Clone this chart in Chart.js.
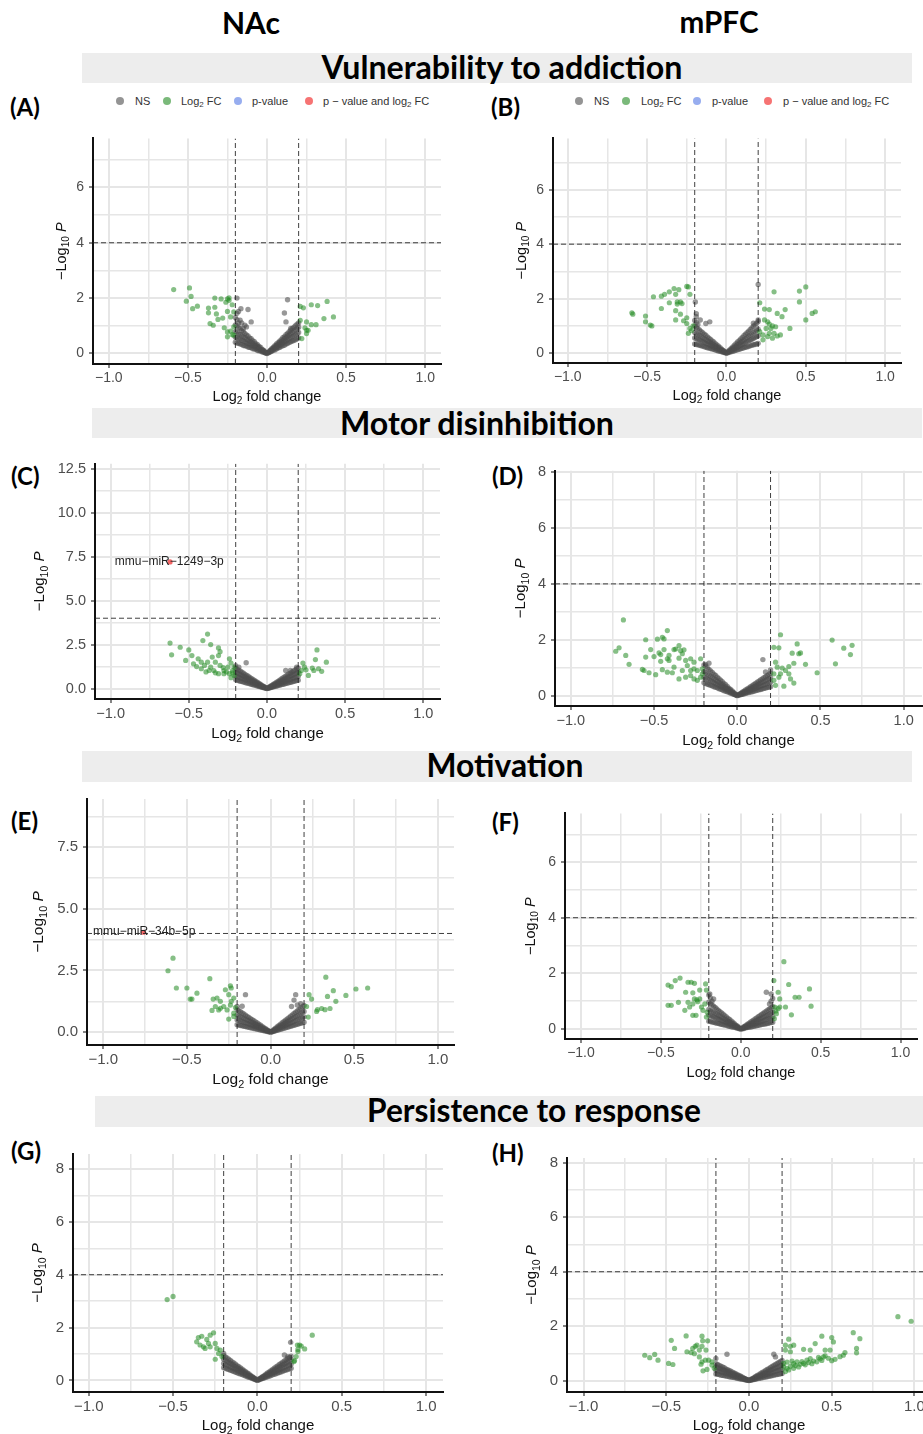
<!DOCTYPE html>
<html><head><meta charset="utf-8"><title>Volcano plots NAc / mPFC</title>
<script src="https://cdn.jsdelivr.net/npm/chart.js@4.4.1/dist/chart.umd.min.js"></script>
<style>
html,body{margin:0;padding:0;width:923px;height:1434px;overflow:hidden;background:#fff;}
body{position:relative;font-family:'Liberation Sans',Arial,sans-serif;}
.t{position:absolute;white-space:nowrap;font-family:Lato,'Open Sans',sans-serif;font-weight:700;color:#000;line-height:1;transform:translate(-50%,-50%);font-size:28px;}
.band{position:absolute;background:#ededed;}
.pl{position:absolute;font-family:Lato,sans-serif;font-weight:700;font-size:24px;line-height:1;white-space:nowrap;transform:translateY(-50%);}
.lg{position:absolute;font-size:11px;color:#333;white-space:nowrap;line-height:1;transform:translateY(-50%);}
.lg sub{font-size:8px;vertical-align:-2px;line-height:0;}
.dot{position:absolute;width:8px;height:8px;border-radius:50%;transform:translate(-50%,-50%);}
canvas{position:absolute;}
</style></head>
<body>
<div class="band" style="left:82px;top:53px;width:830px;height:30px"></div>
<div class="band" style="left:92px;top:408px;width:830px;height:30px"></div>
<div class="band" style="left:82px;top:751px;width:830px;height:31px"></div>
<div class="band" style="left:95px;top:1096px;width:828px;height:31px"></div>
<div class="t" data-w="58" style="left:251px;top:22px">NAc</div>
<div class="t" data-w="79" style="left:719px;top:22px">mPFC</div>
<div class="t" data-w="361" style="left:502px;top:67px">Vulnerability to addiction</div>
<div class="t" data-w="274" style="left:477px;top:423px">Motor disinhibition</div>
<div class="t" data-w="157" style="left:505px;top:766px">Motivation</div>
<div class="t" data-w="334" style="left:534px;top:1111px">Persistence to response</div>
<div class="pl" style="left:10px;top:107px">(A)</div>
<div class="pl" style="left:491px;top:107px">(B)</div>
<div class="pl" style="left:11px;top:476px">(C)</div>
<div class="pl" style="left:492px;top:476px">(D)</div>
<div class="pl" style="left:11px;top:821px">(E)</div>
<div class="pl" style="left:492px;top:822px">(F)</div>
<div class="pl" style="left:11px;top:1151px">(G)</div>
<div class="pl" style="left:492px;top:1153px">(H)</div>
<script>
// ---------------- data ----------------
const xTickLabels = [-1.0, -0.5, 0.0, 0.5, 1.0];
const fcCutoff = [-0.2, 0.2];
const pCutoff = 4;
const legendLabels = ['NS', 'Log<sub>2</sub> FC', 'p-value', 'p \u2212 value and log<sub>2</sub> FC'];
const legendColors = ['rgba(77,77,77,0.6)', 'rgba(34,139,34,0.6)', 'rgba(65,105,225,0.55)', 'rgba(238,0,0,0.55)'];

// NS points stored per column: [log2FC, -log10P, -log10P, ...]
// Panel A: NAc, vulnerability
const nsA = [[0,0,0.01],
[-0.01,0.02,0.03,0.05],[-0.02,0.04,0.07,0.08,0.11],[-0.03,0.05,0.09,0.13,0.15],[-0.04,0.09,0.12,0.15,0.22],[-0.05,0.1,0.16,0.21,0.25],[-0.06,0.11,0.18,0.25,0.32],[-0.07,0.15,0.2,0.29,0.35],[-0.08,0.16,0.25,0.31,0.43],[-0.09,0.17,0.28,0.37,0.46],[-0.1,0.21,0.29,0.41,0.53],[-0.11,0.22,0.34,0.43,0.56],[-0.12,0.23,0.36,0.49,0.63],[-0.13,0.27,0.38,0.51,0.67],[-0.14,0.28,0.43,0.57,0.72],[-0.15,0.29,0.45,0.61,0.79],[-0.16,0.33,0.47,0.63,0.82],[-0.17,0.34,0.52,0.69,0.9],[-0.18,0.37,0.53,0.71,0.93,1.1],[-0.19,0.38,0.58,0.77,1.0,1.22],[-0.2,0.41,0.59,0.79,1.03,1.3],
[0.01,0.03,0.04,0.05],[0.02,0.05,0.08,0.1,0.11],[0.03,0.08,0.11,0.15,0.17],[0.04,0.12,0.15,0.19,0.23],[0.05,0.13,0.2,0.24,0.28],[0.06,0.17,0.22,0.29,0.34],[0.07,0.2,0.27,0.33,0.39],[0.08,0.22,0.3,0.39,0.44],[0.09,0.26,0.34,0.43,0.5],[0.1,0.28,0.38,0.47,0.57],[0.11,0.3,0.42,0.53,0.61],[0.12,0.34,0.45,0.57,0.68],[0.13,0.36,0.5,0.63,0.72],[0.14,0.4,0.53,0.67,0.79],[0.15,0.42,0.57,0.72,0.84],[0.16,0.45,0.61,0.76,0.9],[0.17,0.47,0.65,0.82,0.95],[0.18,0.5,0.68,0.86,1.0],[0.19,0.53,0.72,0.92,1.06],[0.2,0.56,0.76,0.95,1.1],
[-0.19,2.0,1.45],[-0.18,1.52],[-0.165,1.62],[-0.12,1.59],[-0.1,1.14],[-0.13,0.96],[-0.15,0.9],[-0.17,1.2],[-0.14,1.02],[-0.16,1.1],[0.13,1.94],[0.11,1.46],[0.12,1.14],[0.15,0.9]];
const fcA = [[-0.59,2.31],[-0.49,2.37],[-0.48,2.06],[-0.51,1.89],[-0.47,1.62],[-0.44,1.71],[-0.37,1.64],[-0.37,1.47],[-0.33,2.0],[-0.29,1.97],[-0.33,1.67],[-0.32,1.43],[-0.31,1.23],[-0.28,1.28],[-0.36,1.08],[-0.34,1.02],[-0.27,0.93],[-0.25,1.97],[-0.24,2.01],[-0.26,1.85],[-0.24,1.92],[-0.25,1.52],[-0.22,1.76],[-0.21,1.5],[-0.23,1.32],[-0.25,0.78],[-0.23,0.81],[-0.25,0.6],[-0.22,0.68],[-0.21,0.96],[-0.21,0.66],[0.21,1.7],[0.23,1.65],[0.28,1.76],[0.32,1.73],[0.38,1.88],[0.42,1.32],[0.36,1.26],[0.31,1.04],[0.28,1.04],[0.25,1.14],[0.21,1.2],[0.24,0.93],[0.25,0.84],[0.26,0.84],[0.22,0.54],[0.25,0.72]];

// Panel B: mPFC, vulnerability
const nsB = [[0,0,0.01],
[-0.01,0.02,0.03,0.05],[-0.02,0.03,0.06,0.08,0.1],[-0.03,0.05,0.08,0.12,0.15],[-0.04,0.07,0.11,0.15,0.2],[-0.05,0.08,0.14,0.19,0.26],[-0.06,0.1,0.17,0.23,0.3],[-0.07,0.12,0.19,0.27,0.35],[-0.08,0.14,0.23,0.3,0.41],[-0.09,0.15,0.25,0.35,0.45],[-0.1,0.17,0.28,0.38,0.5],[-0.11,0.19,0.31,0.42,0.55],[-0.12,0.2,0.34,0.45,0.6],[-0.13,0.22,0.36,0.5,0.66],[-0.14,0.24,0.39,0.53,0.7],[-0.15,0.26,0.42,0.57,0.75],[-0.16,0.27,0.45,0.61,0.8],[-0.17,0.29,0.48,0.65,0.85],[-0.18,0.31,0.5,0.68,0.9,1.05],[-0.19,0.32,0.53,0.72,0.95,1.12],[-0.2,0.34,0.56,0.76,1.0,1.2],
[0.01,0.02,0.03,0.06],[0.02,0.04,0.06,0.09,0.12],[0.03,0.05,0.1,0.13,0.17],[0.04,0.07,0.13,0.18,0.23],[0.05,0.09,0.16,0.22,0.29],[0.06,0.11,0.19,0.26,0.35],[0.07,0.13,0.22,0.31,0.41],[0.08,0.14,0.26,0.35,0.46],[0.09,0.16,0.29,0.4,0.52],[0.1,0.18,0.32,0.44,0.58],[0.11,0.2,0.35,0.48,0.64],[0.12,0.22,0.38,0.53,0.7],[0.13,0.23,0.42,0.57,0.75],[0.14,0.25,0.45,0.62,0.81],[0.15,0.27,0.48,0.66,0.87],[0.16,0.29,0.51,0.7,0.93],[0.17,0.31,0.54,0.75,0.99],[0.18,0.32,0.58,0.79,1.04],[0.19,0.34,0.61,0.84,1.1],[0.2,0.36,0.64,0.88,1.16],
[0.2,2.52],[-0.196,1.88],[-0.19,1.34,1.45],[-0.165,1.22],[-0.105,1.15],[-0.13,1.09],[0.2,1.22],[0.17,1.1]];
const fcB = [[-0.596,1.48],[-0.59,1.43],[-0.51,1.36],[-0.51,1.15],[-0.48,1.03],[-0.47,1.0],[-0.46,2.07],[-0.41,2.09],[-0.39,2.16],[-0.36,2.25],[-0.33,2.37],[-0.3,2.33],[-0.32,2.16],[-0.25,2.45],[-0.24,2.43],[-0.23,2.16],[-0.41,1.64],[-0.36,1.85],[-0.31,1.8],[-0.29,1.88],[-0.28,1.82],[-0.31,1.88],[-0.32,1.56],[-0.29,1.43],[-0.25,1.3],[-0.27,1.19],[-0.32,1.22],[-0.25,1.09],[-0.23,0.91],[-0.22,0.83],[-0.24,0.73],[-0.21,1.0],[0.21,1.85],[0.24,1.62],[0.27,1.6],[0.3,2.25],[0.32,1.46],[0.35,1.34],[0.37,1.6],[0.46,2.28],[0.5,2.43],[0.46,1.88],[0.54,1.46],[0.56,1.52],[0.5,1.22],[0.4,0.91],[0.24,1.22],[0.26,1.15],[0.27,1.07],[0.29,1.0],[0.31,0.97],[0.28,0.91],[0.25,0.91],[0.3,0.73],[0.34,0.67],[0.26,0.61],[0.23,0.67],[0.23,0.49],[0.29,0.55],[0.32,0.63],[0.21,0.79],[0.27,0.73]];

// Panel C: NAc, motor disinhibition
const nsC = [[0,0,0.02],
[-0.01,0.03,0.04,0.06],[-0.02,0.05,0.07,0.09,0.12],[-0.03,0.07,0.11,0.14,0.17],[-0.04,0.1,0.14,0.19,0.23],[-0.05,0.12,0.18,0.24,0.29],[-0.06,0.15,0.22,0.28,0.35],[-0.07,0.17,0.25,0.33,0.41],[-0.08,0.2,0.29,0.38,0.46],[-0.09,0.22,0.32,0.42,0.52],[-0.1,0.25,0.36,0.47,0.58],[-0.11,0.27,0.4,0.52,0.64],[-0.12,0.3,0.43,0.56,0.7],[-0.13,0.32,0.47,0.61,0.75],[-0.14,0.35,0.5,0.66,0.81],[-0.15,0.37,0.54,0.7,0.87],[-0.16,0.4,0.58,0.75,0.93],[-0.17,0.42,0.61,0.8,0.99],[-0.18,0.45,0.65,0.85,1.04],[-0.19,0.47,0.68,0.89,1.1],[-0.2,0.5,0.72,0.94,1.16],
[0.01,0.02,0.04,0.06],[0.02,0.05,0.07,0.1,0.12],[0.03,0.07,0.1,0.14,0.18],[0.04,0.1,0.14,0.19,0.24],[0.05,0.12,0.17,0.23,0.29],[0.06,0.14,0.21,0.28,0.35],[0.07,0.17,0.24,0.33,0.41],[0.08,0.19,0.28,0.38,0.47],[0.09,0.22,0.31,0.42,0.53],[0.1,0.24,0.35,0.47,0.59],[0.11,0.26,0.38,0.52,0.65],[0.12,0.29,0.42,0.56,0.71],[0.13,0.31,0.45,0.61,0.77],[0.14,0.34,0.49,0.66,0.83],[0.15,0.36,0.52,0.7,0.88],[0.16,0.38,0.56,0.75,0.94],[0.17,0.41,0.59,0.8,1.0],[0.18,0.43,0.63,0.85,1.06],[0.19,0.46,0.66,0.89,1.12],[0.2,0.48,0.7,0.94,1.18],
[-0.133,1.47],[-0.18,1.22],[-0.2,1.3],[0.12,1.03],[0.15,1.03],[0.19,1.22]];
const fcC = [[-0.62,2.59],[-0.61,1.92],[-0.555,2.35],[-0.5,2.2],[-0.48,1.88],[-0.52,1.6],[-0.44,1.69],[-0.41,2.73],[-0.38,3.1],[-0.36,2.5],[-0.31,2.31],[-0.3,2.1],[-0.31,1.88],[-0.35,1.79],[-0.42,1.5],[-0.4,1.32],[-0.38,1.5],[-0.36,1.22],[-0.33,1.5],[-0.3,1.32],[-0.34,1.03],[-0.31,0.85],[-0.37,1.03],[-0.42,1.13],[-0.275,1.03],[-0.24,1.69],[-0.23,1.45],[-0.25,1.22],[-0.22,1.03],[-0.24,0.85],[-0.21,0.75],[-0.23,0.62],[-0.275,0.85],[-0.21,1.22],[-0.47,1.41],[-0.39,0.95],[-0.45,1.25],[-0.28,1.2],[-0.26,0.95],[-0.22,0.9],[-0.33,0.9],[0.23,1.45],[0.25,1.07],[0.29,1.17],[0.31,1.65],[0.32,2.2],[0.38,1.5],[0.35,0.98],[0.33,1.13],[0.265,0.75],[0.21,0.85],[0.22,1.03],[0.24,1.22],[0.3,1.03]];
const sigC = [[-0.62,7.2]];
const labelC = [{x:-0.625, y:7.2, text:'mmu\u2212miR\u22121249\u22123p'}];

// Panel D: mPFC, motor disinhibition
const nsD = [[0,0,0.01],
[-0.01,0.02,0.03,0.05],[-0.02,0.05,0.06,0.09,0.11],[-0.03,0.07,0.1,0.13,0.17],[-0.04,0.09,0.13,0.17,0.22],[-0.05,0.12,0.16,0.22,0.27],[-0.06,0.14,0.2,0.26,0.33],[-0.07,0.16,0.23,0.3,0.39],[-0.08,0.18,0.27,0.34,0.44],[-0.09,0.21,0.3,0.39,0.5],[-0.1,0.23,0.33,0.43,0.55],[-0.11,0.25,0.36,0.47,0.61],[-0.12,0.28,0.4,0.52,0.66],[-0.13,0.3,0.43,0.56,0.72],[-0.14,0.32,0.46,0.6,0.77],[-0.15,0.35,0.5,0.65,0.83],[-0.16,0.37,0.53,0.69,0.88],[-0.17,0.39,0.56,0.73,0.94],[-0.18,0.41,0.59,0.77,0.99],[-0.19,0.44,0.63,0.82,1.05],[-0.2,0.46,0.66,0.86,1.1],
[0.01,0.02,0.03,0.04],[0.02,0.03,0.05,0.06,0.08],[0.03,0.05,0.07,0.1,0.12],[0.04,0.06,0.1,0.13,0.16],[0.05,0.08,0.12,0.16,0.2],[0.06,0.1,0.14,0.19,0.24],[0.07,0.11,0.17,0.22,0.28],[0.08,0.13,0.19,0.26,0.32],[0.09,0.14,0.22,0.29,0.36],[0.1,0.16,0.24,0.32,0.4],[0.11,0.18,0.26,0.35,0.44],[0.12,0.19,0.29,0.38,0.48],[0.13,0.21,0.31,0.42,0.52],[0.14,0.22,0.34,0.45,0.56],[0.15,0.24,0.36,0.48,0.6],[0.16,0.26,0.38,0.51,0.64],[0.17,0.27,0.41,0.54,0.68],[0.18,0.29,0.43,0.58,0.72],[0.19,0.3,0.46,0.61,0.76],[0.2,0.32,0.48,0.64,0.8,0.92],
[0.154,1.29],[-0.17,1.16],[-0.19,1.12],[0.17,0.85]];
const fcD = [[-0.684,2.71],[-0.71,1.71],[-0.73,1.59],[-0.67,1.44],[-0.65,1.12],[-0.57,0.94],[-0.56,0.9],[-0.53,0.82],[-0.49,0.75],[-0.55,2.0],[-0.52,1.65],[-0.55,1.38],[-0.5,1.4],[-0.48,2.02],[-0.47,1.53],[-0.46,1.47],[-0.45,2.09],[-0.44,2.03],[-0.42,2.33],[-0.44,1.65],[-0.42,1.32],[-0.41,1.26],[-0.45,0.93],[-0.42,0.84],[-0.39,0.82],[-0.38,1.65],[-0.37,1.67],[-0.35,1.79],[-0.34,1.61],[-0.33,1.5],[-0.32,1.64],[-0.35,1.34],[-0.31,1.26],[-0.28,1.32],[-0.26,1.2],[-0.22,1.32],[-0.3,1.08],[-0.26,0.96],[-0.33,0.9],[-0.35,0.6],[-0.31,0.66],[-0.28,0.72],[-0.26,0.6],[-0.24,0.55],[-0.22,0.66],[-0.21,0.78],[-0.28,0.9],[-0.24,0.9],[-0.21,0.96],[-0.38,1.02],[-0.46,1.23],[-0.41,1.44],[0.26,2.18],[0.22,1.73],[0.25,1.71],[0.36,1.85],[0.33,1.52],[0.37,1.5],[0.38,1.53],[0.57,1.99],[0.64,1.7],[0.69,1.8],[0.68,1.47],[0.59,1.14],[0.48,0.82],[0.41,1.12],[0.34,1.16],[0.31,1.04],[0.27,0.99],[0.23,1.2],[0.24,1.02],[0.29,0.9],[0.32,0.6],[0.34,0.45],[0.28,0.34],[0.25,0.66],[0.22,0.55],[0.23,0.37],[0.22,0.78],[0.26,0.78],[0.31,0.78]];

// Panel E: NAc, motivation
const nsE = [[0,0,0.01],
[-0.01,0.02,0.03,0.05],[-0.02,0.03,0.05,0.07,0.09],[-0.03,0.05,0.08,0.1,0.14],[-0.04,0.06,0.1,0.14,0.18],[-0.05,0.08,0.13,0.17,0.23],[-0.06,0.09,0.15,0.21,0.28],[-0.07,0.11,0.18,0.25,0.32],[-0.08,0.12,0.2,0.28,0.37],[-0.09,0.14,0.23,0.32,0.41],[-0.1,0.15,0.25,0.35,0.46],[-0.11,0.17,0.28,0.39,0.51],[-0.12,0.18,0.3,0.42,0.55],[-0.13,0.2,0.33,0.46,0.6],[-0.14,0.21,0.35,0.49,0.64],[-0.15,0.23,0.38,0.53,0.69],[-0.16,0.24,0.4,0.56,0.74],[-0.17,0.26,0.43,0.6,0.78],[-0.18,0.27,0.45,0.63,0.83],[-0.19,0.29,0.48,0.67,0.87],[-0.2,0.3,0.5,0.7,0.92,1.04],
[0.01,0.02,0.03,0.05],[0.02,0.04,0.06,0.08,0.11],[0.03,0.06,0.09,0.13,0.16],[0.04,0.08,0.12,0.17,0.22],[0.05,0.1,0.16,0.21,0.27],[0.06,0.12,0.19,0.25,0.32],[0.07,0.14,0.22,0.29,0.38],[0.08,0.16,0.25,0.34,0.43],[0.09,0.18,0.28,0.38,0.49],[0.1,0.2,0.31,0.42,0.54],[0.11,0.22,0.34,0.46,0.59],[0.12,0.24,0.37,0.5,0.65],[0.13,0.26,0.4,0.55,0.7],[0.14,0.28,0.43,0.59,0.76],[0.15,0.3,0.47,0.63,0.81],[0.16,0.32,0.5,0.67,0.86],[0.17,0.34,0.53,0.71,0.92],[0.18,0.36,0.56,0.76,0.97],[0.19,0.38,0.59,0.8,1.03],[0.2,0.4,0.62,0.84,1.08],
[-0.15,1.52],[0.15,1.52],[0.14,1.3],[0.125,1.04],[0.18,1.15],[0.16,1.1],[-0.17,1.05]];
const fcE = [[-0.583,3.0],[-0.613,2.49],[-0.563,1.79],[-0.5,1.79],[-0.44,1.58],[-0.48,1.34],[-0.47,1.34],[-0.363,2.17],[-0.343,1.34],[-0.32,1.38],[-0.3,1.25],[-0.33,1.04],[-0.35,0.88],[-0.3,0.97],[-0.28,1.04],[-0.27,1.72],[-0.24,1.88],[-0.235,1.79],[-0.25,1.52],[-0.22,1.38],[-0.235,1.25],[-0.26,0.9],[-0.22,0.77],[-0.25,0.53],[-0.22,0.64],[-0.31,0.9],[-0.24,1.1],[-0.21,1.0],[0.23,1.52],[0.245,1.34],[0.33,2.23],[0.34,1.45],[0.375,1.68],[0.39,1.25],[0.45,1.49],[0.51,1.75],[0.58,1.79],[0.28,0.91],[0.305,0.96],[0.325,0.91],[0.355,0.96],[0.225,0.61],[0.215,1.04],[0.275,0.84]];
const sigE = [[-0.76,4.05]];
const labelE = [{x:-0.755, y:4.09, text:'mmu\u2212miR\u221234b\u22125p'}];

// Panel F: mPFC, motivation
const nsF = [[0,0,0.01],
[-0.01,0.01,0.03,0.05],[-0.02,0.03,0.05,0.07,0.1],[-0.03,0.04,0.08,0.11,0.14],[-0.04,0.06,0.1,0.14,0.19],[-0.05,0.07,0.13,0.18,0.24],[-0.06,0.08,0.15,0.21,0.29],[-0.07,0.1,0.18,0.25,0.34],[-0.08,0.11,0.2,0.28,0.38],[-0.09,0.13,0.23,0.32,0.43],[-0.1,0.14,0.25,0.35,0.48],[-0.11,0.15,0.28,0.39,0.53],[-0.12,0.17,0.3,0.42,0.58],[-0.13,0.18,0.33,0.46,0.62],[-0.14,0.2,0.35,0.49,0.67],[-0.15,0.21,0.38,0.53,0.72],[-0.16,0.22,0.4,0.56,0.77],[-0.17,0.24,0.43,0.6,0.82],[-0.18,0.25,0.45,0.63,0.86,1.0],[-0.19,0.27,0.48,0.67,0.91,1.12],[-0.2,0.28,0.5,0.7,0.96,1.22],
[0.01,0.01,0.02,0.04],[0.02,0.02,0.04,0.06,0.08],[0.03,0.04,0.06,0.09,0.12],[0.04,0.05,0.08,0.12,0.16],[0.05,0.06,0.11,0.15,0.2],[0.06,0.07,0.13,0.18,0.24],[0.07,0.08,0.15,0.21,0.28],[0.08,0.1,0.17,0.24,0.32],[0.09,0.11,0.19,0.27,0.36],[0.1,0.12,0.21,0.3,0.4],[0.11,0.13,0.23,0.33,0.44],[0.12,0.14,0.25,0.36,0.48],[0.13,0.16,0.27,0.39,0.52],[0.14,0.17,0.29,0.42,0.56],[0.15,0.18,0.32,0.45,0.6],[0.16,0.19,0.34,0.48,0.64],[0.17,0.2,0.36,0.51,0.68],[0.18,0.22,0.38,0.54,0.72,0.9],[0.19,0.23,0.4,0.57,0.76,1.0],[0.2,0.24,0.42,0.6,0.8,1.1],
[0.16,1.32],[0.19,1.26],[-0.194,1.26],[-0.17,1.08]];
const fcF = [[-0.455,1.58],[-0.435,1.52],[-0.41,1.74],[-0.38,1.83],[-0.33,1.68],[-0.31,1.68],[-0.29,1.64],[-0.22,1.62],[-0.345,1.32],[-0.3,1.3],[-0.257,1.4],[-0.215,1.4],[-0.455,0.85],[-0.435,0.85],[-0.39,0.96],[-0.35,0.67],[-0.33,0.96],[-0.29,1.08],[-0.275,1.05],[-0.257,1.08],[-0.3,0.9],[-0.32,0.79],[-0.28,0.49],[-0.3,0.49],[-0.236,0.67],[-0.215,0.43],[-0.225,0.9],[-0.246,0.79],[-0.21,0.6],[-0.27,0.98],[0.207,1.74],[0.27,2.42],[0.3,1.6],[0.234,1.32],[0.34,1.14],[0.365,1.14],[0.43,1.44],[0.44,0.82],[0.317,0.51],[0.28,0.79],[0.213,0.79],[0.234,0.73],[0.244,0.79],[0.223,0.55],[0.21,0.37],[0.244,1.08],[0.22,0.65]];

// Panel G: NAc, persistence
const nsG = [[0,0,0.01],
[-0.01,0.02,0.03,0.05],[-0.02,0.05,0.06,0.08,0.09],[-0.03,0.07,0.1,0.12,0.14],[-0.04,0.1,0.13,0.16,0.19],[-0.05,0.12,0.16,0.2,0.24],[-0.06,0.14,0.19,0.24,0.28],[-0.07,0.17,0.22,0.28,0.33],[-0.08,0.19,0.26,0.32,0.38],[-0.09,0.22,0.29,0.36,0.42],[-0.1,0.24,0.32,0.4,0.47],[-0.11,0.26,0.35,0.44,0.52],[-0.12,0.29,0.38,0.48,0.56],[-0.13,0.31,0.42,0.52,0.61],[-0.14,0.34,0.45,0.56,0.66],[-0.15,0.36,0.48,0.6,0.7],[-0.16,0.38,0.51,0.64,0.75],[-0.17,0.41,0.54,0.68,0.8],[-0.18,0.43,0.58,0.72,0.85],[-0.19,0.46,0.61,0.76,0.89],[-0.2,0.48,0.64,0.8,0.94],
[0.01,0.02,0.03,0.05],[0.02,0.05,0.06,0.08,0.09],[0.03,0.07,0.09,0.12,0.14],[0.04,0.09,0.12,0.16,0.18],[0.05,0.12,0.16,0.2,0.23],[0.06,0.14,0.19,0.23,0.28],[0.07,0.16,0.22,0.27,0.32],[0.08,0.18,0.25,0.31,0.37],[0.09,0.21,0.28,0.35,0.41],[0.1,0.23,0.31,0.39,0.46],[0.11,0.25,0.34,0.43,0.51],[0.12,0.28,0.37,0.47,0.55],[0.13,0.3,0.4,0.51,0.6],[0.14,0.32,0.43,0.55,0.64],[0.15,0.35,0.47,0.59,0.69],[0.16,0.37,0.5,0.62,0.74],[0.17,0.39,0.53,0.66,0.78],[0.18,0.41,0.56,0.7,0.83,0.9],[0.19,0.44,0.59,0.74,0.87],[0.2,0.46,0.62,0.78,0.92],
[0.197,1.44],[0.16,0.96],[-0.2,1.02]];
const fcG = [[-0.535,3.06],[-0.5,3.18],[-0.36,1.46],[-0.35,1.62],[-0.33,1.67],[-0.34,1.34],[-0.32,1.27],[-0.3,1.55],[-0.29,1.4],[-0.31,1.21],[-0.28,1.27],[-0.26,1.8],[-0.28,1.71],[-0.25,1.4],[-0.24,1.21],[-0.23,1.02],[-0.25,0.8],[-0.21,0.9],[-0.22,1.15],[0.237,1.34],[0.25,1.34],[0.28,1.19],[0.325,1.71],[0.24,1.09],[0.23,0.9],[0.217,0.71],[0.24,1.17],[0.26,1.3],[0.22,0.75]];

// Panel H: mPFC, persistence
const nsH = [[0,0,0.01],
[-0.01,0.01,0.02,0.03],[-0.02,0.02,0.04,0.05,0.06],[-0.03,0.04,0.06,0.08,0.09],[-0.04,0.05,0.08,0.1,0.12],[-0.05,0.06,0.1,0.13,0.16],[-0.06,0.07,0.11,0.15,0.19],[-0.07,0.08,0.13,0.18,0.22],[-0.08,0.1,0.15,0.2,0.25],[-0.09,0.11,0.17,0.23,0.28],[-0.1,0.12,0.19,0.25,0.31],[-0.11,0.13,0.21,0.28,0.34],[-0.12,0.14,0.23,0.3,0.37],[-0.13,0.16,0.25,0.33,0.4],[-0.14,0.17,0.27,0.35,0.43],[-0.15,0.18,0.29,0.38,0.47],[-0.16,0.19,0.3,0.4,0.5],[-0.17,0.2,0.32,0.43,0.53],[-0.18,0.22,0.34,0.45,0.56],[-0.19,0.23,0.36,0.48,0.59],[-0.2,0.24,0.38,0.5,0.62,0.81],
[0.01,0.01,0.02,0.04],[0.02,0.03,0.04,0.06,0.07],[0.03,0.04,0.06,0.09,0.11],[0.04,0.05,0.08,0.12,0.15],[0.05,0.07,0.11,0.15,0.19],[0.06,0.08,0.13,0.17,0.22],[0.07,0.09,0.15,0.2,0.26],[0.08,0.1,0.17,0.23,0.3],[0.09,0.12,0.19,0.26,0.33],[0.1,0.13,0.21,0.29,0.37],[0.11,0.14,0.23,0.32,0.41],[0.12,0.16,0.25,0.35,0.44],[0.13,0.17,0.27,0.38,0.48],[0.14,0.18,0.29,0.41,0.52],[0.15,0.2,0.32,0.44,0.56],[0.16,0.21,0.34,0.46,0.59],[0.17,0.22,0.36,0.49,0.63],[0.18,0.23,0.38,0.52,0.67],[0.19,0.25,0.4,0.55,0.7],[0.2,0.26,0.42,0.58,0.74],
[-0.133,0.97],[0.15,0.97],[0.16,0.87]];
const fcH = [[-0.63,0.93],[-0.6,0.84],[-0.57,0.96],[-0.55,0.75],[-0.486,0.63],[-0.46,0.59],[-0.47,1.48],[-0.45,1.18],[-0.38,1.64],[-0.375,1.06],[-0.35,1.03],[-0.34,1.18],[-0.325,1.26],[-0.315,1.3],[-0.33,0.99],[-0.3,1.12],[-0.284,1.63],[-0.28,1.46],[-0.25,1.46],[-0.26,1.12],[-0.284,1.26],[-0.3,0.87],[-0.284,0.69],[-0.264,0.75],[-0.244,0.75],[-0.224,0.69],[-0.278,0.36],[-0.254,0.41],[-0.224,0.57],[-0.21,0.45],[-0.29,0.6],[0.24,1.52],[0.22,1.3],[0.25,1.26],[0.27,1.3],[0.25,1.06],[0.22,1.12],[0.33,1.15],[0.37,1.12],[0.4,1.36],[0.44,1.63],[0.46,1.12],[0.49,1.12],[0.5,1.58],[0.51,1.42],[0.46,0.91],[0.5,0.73],[0.57,0.93],[0.58,1.03],[0.63,1.76],[0.67,1.54],[0.65,1.18],[0.65,1.02],[0.9,2.35],[0.98,2.18],[0.21,0.63],[0.23,0.68],[0.25,0.53],[0.27,0.62],[0.29,0.69],[0.31,0.6],[0.33,0.63],[0.35,0.75],[0.37,0.81],[0.39,0.72],[0.41,0.69],[0.43,0.8],[0.45,0.87],[0.42,0.85],[0.27,0.45],[0.24,0.39],[0.22,0.33],[0.3,0.5],[0.34,0.58],[0.38,0.62],[0.21,0.5],[0.23,0.45],[0.26,0.72],[0.28,0.55],[0.32,0.7],[0.36,0.66],[0.44,0.74],[0.48,0.82],[0.52,0.78],[0.55,0.88]];

// ---------------- layout (pixel geometry, not data) ----------------
const panels = [
  {ns:nsA, fc:fcA, sig:[], labels:[], axL:93, axT:137, axR:441, axB:364, xMin:-1.1, xMax:1.1, yMin:-0.38, yMax:7.77, yStep:1, yMajor:2, yDec:0, fs:14, tfs:14.5, xto:33, yto:31},
  {ns:nsB, fc:fcB, sig:[], labels:[], axL:553, axT:137, axR:901, axB:363, xMin:-1.093, xMax:1.1, yMin:-0.36, yMax:7.88, yStep:1, yMajor:2, yDec:0, fs:14, tfs:14.5, xto:33, yto:31},
  {ns:nsC, fc:fcC, sig:sigC, labels:labelC, axL:95, axT:462, axR:440, axB:699, xMin:-1.1, xMax:1.107, yMin:-0.59, yMax:12.78, yStep:1.25, yMajor:2.5, yDec:1, fs:14.5, tfs:15, xto:35, yto:55},
  {ns:nsD, fc:fcD, sig:[], labels:[], axL:555, axT:469, axR:922, axB:706, xMin:-1.095, xMax:1.11, yMin:-0.37, yMax:8.05, yStep:1, yMajor:2, yDec:0, fs:14.5, tfs:15, xto:35, yto:34},
  {ns:nsE, fc:fcE, sig:sigE, labels:labelE, axL:87, axT:797, axR:454, axB:1045, xMin:-1.097, xMax:1.096, yMin:-0.52, yMax:9.45, yStep:1.25, yMajor:2.5, yDec:1, fs:15, tfs:15.5, xto:35, yto:48},
  {ns:nsF, fc:fcF, sig:[], labels:[], axL:565, axT:812, axR:917, axB:1039, xMin:-1.1, xMax:1.103, yMin:-0.36, yMax:7.75, yStep:1, yMajor:2, yDec:0, fs:14, tfs:14.5, xto:34, yto:34},
  {ns:nsG, fc:fcG, sig:[], labels:[], axL:73, axT:1152, axR:443, axB:1392, xMin:-1.093, xMax:1.1, yMin:-0.44, yMax:8.57, yStep:1, yMajor:2, yDec:0, fs:15, tfs:15, xto:34, yto:35},
  {ns:nsH, fc:fcH, sig:[], labels:[], axL:567, axT:1156, axR:931, axB:1392, xMin:-1.1, xMax:1.1, yMin:-0.42, yMax:8.18, yStep:1, yMajor:2, yDec:0, fs:15, tfs:15, xto:34, yto:35}
];
const legendRows = [
  {dots:[120,167,238,309], texts:[135,181,252,323], y:101},
  {dots:[579,626,697,768], texts:[594,641,712,783], y:101}
];

// ---------------- HTML text ----------------
document.querySelectorAll('[data-w]').forEach(el => {
  const w = +el.dataset.w;
  const fs = parseFloat(getComputedStyle(el).fontSize);
  el.style.fontSize = (fs * w / el.getBoundingClientRect().width) + 'px';
});
legendRows.forEach(r => {
  legendLabels.forEach((lab, i) => {
    const d = document.createElement('div');
    d.className = 'dot'; d.style.left = r.dots[i] + 'px'; d.style.top = r.y + 'px';
    d.style.background = legendColors[i];
    document.body.appendChild(d);
    const t = document.createElement('div');
    t.className = 'lg'; t.style.left = r.texts[i] + 'px'; t.style.top = r.y + 'px';
    t.innerHTML = lab;
    document.body.appendChild(t);
  });
});

// ---------------- charts ----------------
const FAM = "'Liberation Sans', Arial, sans-serif";
Chart.defaults.font.family = FAM;
const near = (v, step) => Math.abs(v / step - Math.round(v / step)) < 1e-6;
const minus = s => s.replace('-', '\u2212');
const toXY = arr => arr.map(([x, y]) => ({x, y}));
const colsToXY = cols => cols.flatMap(([x, ...ys]) => ys.map(y => ({x, y})));

function drawParts(ctx, parts, cx, cy) {
  let total = 0;
  parts.forEach(p => { ctx.font = p.font; total += ctx.measureText(p.t).width; });
  let x = cx - total / 2;
  ctx.textAlign = 'left'; ctx.textBaseline = 'middle';
  parts.forEach(p => { ctx.font = p.font; ctx.fillText(p.t, x, cy + (p.dy || 0)); x += ctx.measureText(p.t).width; });
}

function makeChart(p) {
  const YW = 80, PT = 12, PR = 12, XH = 48;
  const W = YW + (p.axR - p.axL) + PR, H = PT + (p.axB - p.axT) + XH;
  const cv = document.createElement('canvas');
  cv.width = W; cv.height = H;
  cv.style.left = (p.axL - YW) + 'px'; cv.style.top = (p.axT - PT) + 'px';
  cv.style.width = W + 'px'; cv.style.height = H + 'px';
  document.body.appendChild(cv);

  const titles = {
    id: 'axTitles',
    afterDraw(chart) {
      const {ctx, chartArea: ca} = chart;
      const big = p.tfs + 'px ' + FAM, small = (p.tfs * 0.7) + 'px ' + FAM, ital = 'italic ' + p.tfs + 'px ' + FAM;
      ctx.save();
      ctx.fillStyle = '#111';
      drawParts(ctx, [{t:'Log', font:big}, {t:'2', font:small, dy:p.tfs * 0.32}, {t:' fold change', font:big}], (ca.left + ca.right) / 2, ca.bottom + p.xto);
      ctx.translate(ca.left - p.yto, (ca.top + ca.bottom) / 2);
      ctx.rotate(-Math.PI / 2);
      drawParts(ctx, [{t:'\u2212Log', font:big}, {t:'10', font:small, dy:p.tfs * 0.32}, {t:' ', font:big}, {t:'P', font:ital}], 0, 0);
      ctx.restore();
    }
  };
  const labels = {
    id: 'ptLabels',
    afterDatasetsDraw(chart) {
      const {ctx} = chart;
      ctx.save();
      ctx.font = '12px ' + FAM; ctx.fillStyle = '#222'; ctx.textAlign = 'center'; ctx.textBaseline = 'middle';
      p.labels.forEach(l => ctx.fillText(l.text, chart.scales.x.getPixelForValue(l.x), chart.scales.y.getPixelForValue(l.y)));
      ctx.restore();
    }
  };
  const lineDs = (data) => ({type:'line', data, showLine:true, borderColor:'rgba(30,30,30,0.85)', borderWidth:1, borderDash:[5,3], pointRadius:0, fill:false, order:0});
  const datasets = [
    ...fcCutoff.map(c => lineDs([{x:c, y:p.yMin}, {x:c, y:p.yMax}])),
    lineDs([{x:p.xMin, y:pCutoff}, {x:p.xMax, y:pCutoff}]),
    {data:toXY(p.sig), backgroundColor:'rgba(238,0,0,0.6)', pointRadius:2.6, pointBorderWidth:0, order:1},
    {data:toXY(p.fc), backgroundColor:'rgba(34,139,34,0.55)', pointRadius:2.6, pointBorderWidth:0, order:2},
    {data:colsToXY(p.ns), backgroundColor:'rgba(77,77,77,0.58)', pointRadius:2.7, pointBorderWidth:0, order:3}
  ];
  new Chart(cv, {
    type: 'scatter',
    data: {datasets},
    options: {
      responsive: false, animation: false, devicePixelRatio: 1, events: [],
      layout: {padding: {top: PT, right: PR, left: 0, bottom: 0}, autoPadding: false},
      plugins: {legend: {display: false}, tooltip: {enabled: false}},
      scales: {
        x: {
          type: 'linear', position: 'bottom', min: p.xMin, max: p.xMax,
          afterFit: s => { s.height = XH; },
          ticks: {stepSize: 0.25, maxTicksLimit: 1000, includeBounds: false, autoSkip: false, maxRotation: 0, padding: 2, color: '#4d4d4d',
                  font: {size: p.fs}, callback: v => (near(v, 0.5) && xTickLabels.some(t => Math.abs(t - v) < 1e-6)) ? minus(v.toFixed(1)) : ''},
          grid: {color: '#e6e6e6', lineWidth: c => near(c.tick.value, 0.5) ? 2 : 1.5, tickLength: 4, tickWidth: 1.2,
                 tickColor: c => near(c.tick.value, 0.5) ? '#333' : 'rgba(0,0,0,0)'},
          border: {color: '#111', width: 2}
        },
        y: {
          type: 'linear', position: 'left', min: p.yMin, max: p.yMax,
          afterFit: s => { s.width = YW; },
          ticks: {stepSize: p.yStep, maxTicksLimit: 1000, includeBounds: false, autoSkip: false, padding: 5, color: '#4d4d4d',
                  font: {size: p.fs}, callback: v => near(v, p.yMajor) ? v.toFixed(p.yDec) : ''},
          grid: {color: '#e6e6e6', lineWidth: c => near(c.tick.value, p.yMajor) ? 2 : 1.5, tickLength: 4, tickWidth: 1.2,
                 tickColor: c => near(c.tick.value, p.yMajor) ? '#333' : 'rgba(0,0,0,0)'},
          border: {color: '#111', width: 2}
        }
      }
    },
    plugins: [titles, labels]
  });
}
panels.forEach(makeChart);
</script>
</body></html>
